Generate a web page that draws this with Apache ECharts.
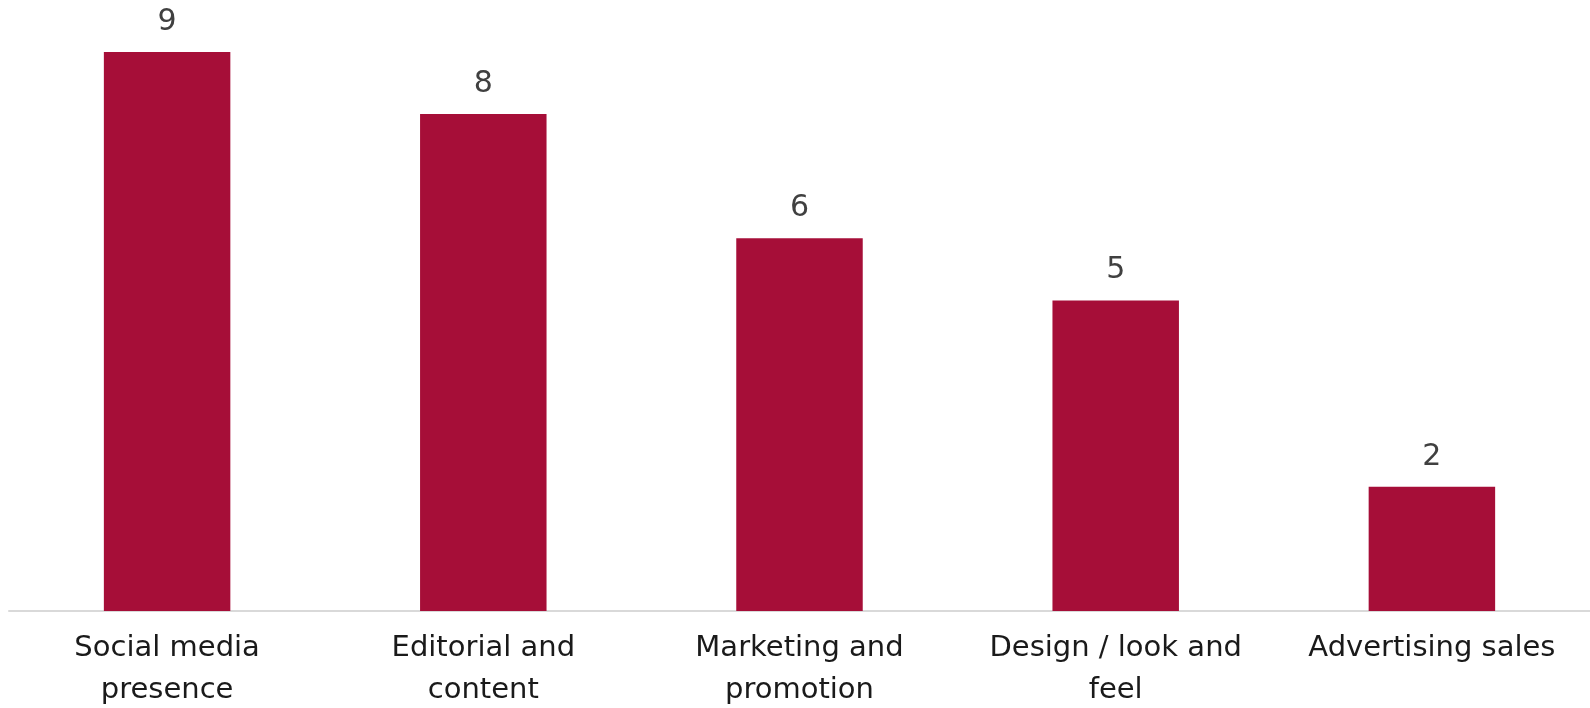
<!DOCTYPE html>
<html>
<head>
<meta charset="utf-8">
<script src="https://cdn.jsdelivr.net/npm/echarts@6/dist/echarts.min.js"></script>
<style>
html,body{margin:0;padding:0;background:#fff;}
#chart{width:1590px;height:708px;}
</style>
</head>
<body>
<div id="chart"></div>
<script>
const categories = ["Social media\npresence", "Editorial and\ncontent", "Marketing and\npromotion", "Design / look and\nfeel", "Advertising sales"];
const values = [9, 8, 6, 5, 2];

const chart = echarts.init(document.getElementById('chart'));
chart.setOption({
  animation: false,
  grid: {left: 9, right: 0, top: 52, bottom: 97, containLabel: false, outerBoundsMode: 'none'},
  xAxis: {
    type: 'category',
    data: categories,
    axisLine: {show: true, lineStyle: {color: '#d9d9d9', width: 2}},
    axisTick: {show: false},
    axisLabel: {
      interval: 0,
      margin: 16,
      color: '#1a1a1a',
      fontFamily: 'DejaVu Sans',
      fontSize: 29,
      lineHeight: 42
    }
  },
  yAxis: {
    type: 'value',
    min: 0,
    max: 9,
    show: false,
    splitLine: {show: false}
  },
  series: [{
    type: 'bar',
    data: values,
    barWidth: '40%',
    itemStyle: {color: '#A60E38'},
    label: {
      show: true,
      position: 'top',
      distance: 15,
      color: '#404040',
      fontFamily: 'DejaVu Sans',
      fontSize: 30
    }
  }]
});
</script>
</body>
</html>
